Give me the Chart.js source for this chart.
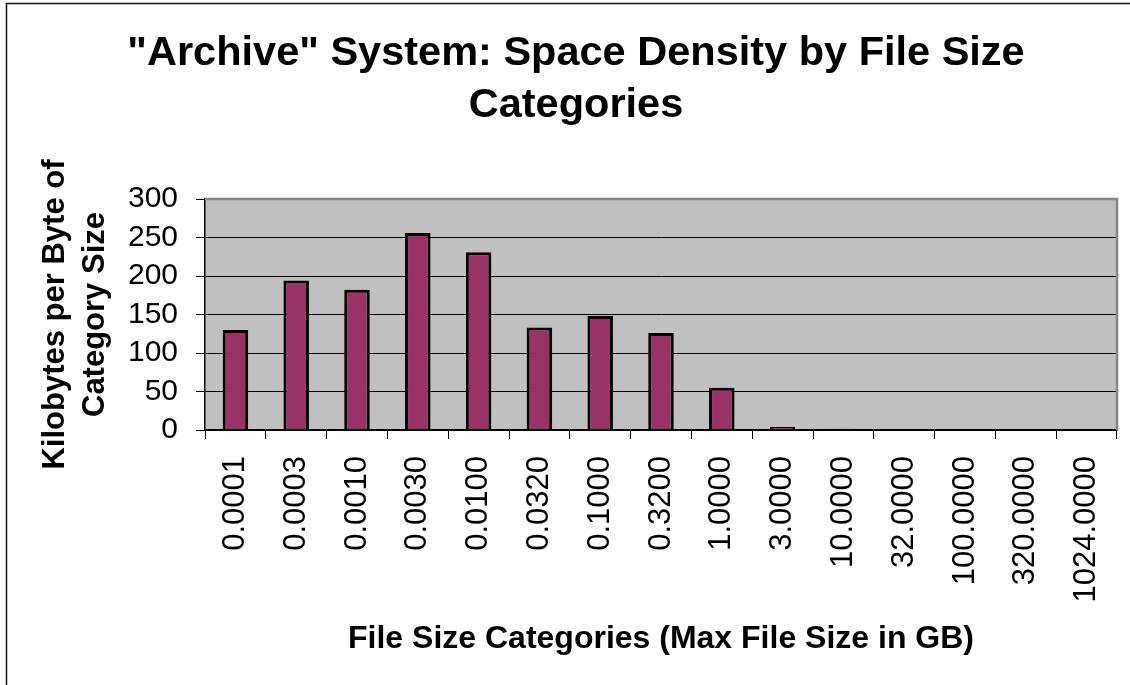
<!doctype html>
<html lang="en">
<head>
    <meta charset="utf-8">
    <title>Archive System: Space Density by File Size Categories</title>
    <script src="https://cdn.jsdelivr.net/npm/chart.js@4.4.1/dist/chart.umd.min.js"></script>
    <style>
        html, body {
            margin: 0;
            padding: 0;
            background: #ffffff;
        }
        .chart-box {
            position: relative;
            width: 1130px;
            height: 685px;
        }
    </style>
</head>
<body>
<div class="chart-box">
    <canvas id="densityCanvas"></canvas>
</div>

<script>
    // categories = max file size in GB for each bucket
    let categories = ["0.0001", "0.0003", "0.0010", "0.0030", "0.0100", "0.0320", "0.1000", "0.3200",
        "1.0000", "3.0000", "10.0000", "32.0000", "100.0000", "320.0000", "1024.0000"];
    // kilobytes per byte of category size
    let density = [130, 194, 182, 256, 231, 133, 148, 126, 55, 4, 1.5, 0, 0, 0, 0];
    let yTicks = [0, 50, 100, 150, 200, 250, 300];

    let titleLines = ['"Archive" System: Space Density by File Size', "Categories"];
    let yTitleLines = ["Kilobytes per Byte of", "Category Size"];
    let xTitle = "File Size Categories (Max File Size in GB)";

    let fontFamily = "'Liberation Sans', Arial, sans-serif";

    // grey plot area + outer frame, like the spreadsheet chart
    let frameAndPlot = {
        id: 'frameAndPlot',
        beforeDraw: function (chart) {
            let ctx = chart.ctx;
            let area = chart.chartArea;
            ctx.save();
            ctx.fillStyle = '#ffffff';
            ctx.fillRect(0, 0, chart.width, chart.height);
            ctx.strokeStyle = '#111111';
            ctx.lineWidth = 1.5;
            ctx.strokeRect(6.5, 3.5, chart.width + 20, chart.height + 20);
            ctx.fillStyle = '#c0c0c0';
            ctx.fillRect(area.left, area.top, area.right - area.left, area.bottom - area.top);
            ctx.restore();
        },
        beforeDatasetsDraw: function (chart) {
            let ctx = chart.ctx;
            let area = chart.chartArea;
            ctx.save();
            ctx.strokeStyle = '#868686';
            ctx.lineWidth = 2.5;
            ctx.beginPath();
            ctx.moveTo(area.left, area.top);
            ctx.lineTo(area.right, area.top);
            ctx.lineTo(area.right, area.bottom);
            ctx.stroke();
            ctx.restore();
        }
    };

    function drawChart() {
        return new Chart(document.getElementById('densityCanvas'), {
            type: 'bar',
            data: {
                labels: categories,
                datasets: [{
                    label: 'Space density',
                    data: density,
                    backgroundColor: '#993366',
                    borderColor: '#000000',
                    borderWidth: 3,
                    borderSkipped: 'bottom',
                    barPercentage: 0.42,
                    categoryPercentage: 1.0
                }]
            },
            options: {
                responsive: true,
                maintainAspectRatio: false,
                animation: false,
                layout: {
                    padding: {left: 35, right: 13, top: 0, bottom: 0}
                },
                plugins: {
                    legend: {display: false},
                    tooltip: {enabled: false},
                    title: {
                        display: true,
                        text: titleLines,
                        color: '#000000',
                        font: {family: fontFamily, size: 41.5, weight: 'bold', lineHeight: '51.5px'},
                        padding: {top: 28, bottom: 68}
                    }
                },
                scales: {
                    x: {
                        afterFit: function (scale) {
                            scale.height = 255;
                            scale.paddingLeft = 0;
                            scale.paddingRight = 0;
                        },
                        grid: {
                            display: true,
                            drawOnChartArea: false,
                            drawTicks: true,
                            tickLength: 9,
                            color: '#000000',
                            offset: true
                        },
                        border: {display: true, color: '#000000', width: 1.5},
                        ticks: {
                            autoSkip: false,
                            minRotation: 90,
                            maxRotation: 90,
                            padding: 17,
                            color: '#000000',
                            font: {family: fontFamily, size: 31}
                        },
                        title: {
                            display: true,
                            text: xTitle,
                            color: '#000000',
                            font: {family: fontFamily, size: 32, weight: 'bold'},
                            padding: {top: 0, bottom: 27}
                        }
                    },
                    y: {
                        min: 0,
                        max: 300,
                        afterFit: function (scale) {
                            scale.width = 170;
                            scale.paddingTop = 0;
                            scale.paddingBottom = 0;
                        },
                        afterBuildTicks: function (scale) {
                            scale.ticks = yTicks.map(function (v) {
                                return {value: v};
                            });
                        },
                        grid: {
                            drawTicks: true,
                            tickLength: 9,
                            lineWidth: 1,
                            color: function (ctx) {
                                // top line is the plot border, drawn separately in grey
                                return ctx.tick && ctx.tick.value === 300 ? 'rgba(0,0,0,0)' : '#000000';
                            },
                            tickColor: '#000000'
                        },
                        border: {display: true, color: '#000000', width: 1.5},
                        ticks: {
                            autoSkip: false,
                            padding: 18,
                            color: '#000000',
                            font: {family: fontFamily, size: 30}
                        },
                        title: {
                            display: true,
                            text: yTitleLines,
                            color: '#000000',
                            font: {family: fontFamily, size: 31, weight: 'bold', lineHeight: '40px'},
                            padding: {top: 0, bottom: 0}
                        }
                    }
                }
            },
            plugins: [frameAndPlot]
        });
    }

    let densityChart = drawChart();
</script>
</body>
</html>
